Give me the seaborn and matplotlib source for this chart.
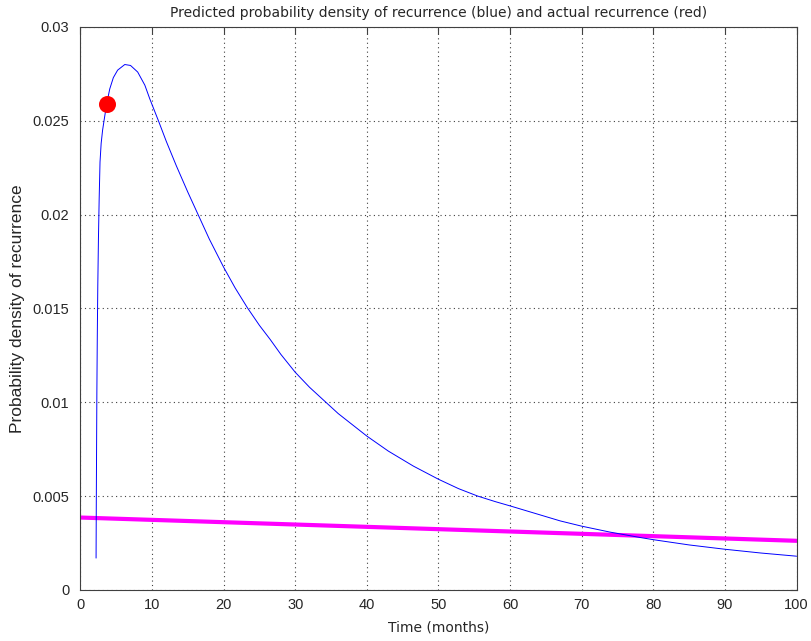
import matplotlib
matplotlib.use("Agg")
import matplotlib.pyplot as plt
import seaborn as sns
import pandas as pd

# Predicted density curve (blue)
time_months = [2.19, 2.22, 2.26, 2.3, 2.36, 2.43, 2.52, 2.62, 2.74, 2.9, 3.1, 3.34, 3.67,
               4.1, 4.6, 5.2, 6.2, 7.0, 8.0, 9.0, 9.7, 10.9, 12.0, 13.4, 15.0, 16.5,
               18.0, 20.0, 21.6, 23.3, 25.0, 26.5, 28.0, 30.0, 32.0, 34.0, 36.0, 38.0,
               40.0, 43.0, 46.5, 50.0, 52.8, 55.5, 58.0, 60.0, 62.8, 64.2, 67.0, 70.0,
               74.0, 78.1, 80.0, 85.0, 90.0, 95.0, 100.0]
density = [0.0017, 0.0045, 0.0075, 0.0105, 0.0135, 0.0162, 0.0187, 0.0208, 0.0228,
           0.0238, 0.0245, 0.0251, 0.0259,
           0.0267, 0.0273, 0.0277, 0.0280, 0.02795, 0.0276, 0.0269, 0.02616, 0.0250,
           0.0239, 0.0226, 0.0212, 0.01995, 0.0187, 0.0172, 0.0161, 0.01505,
           0.0141, 0.01335, 0.01255, 0.0116, 0.0108, 0.0101, 0.0094, 0.0088,
           0.0082, 0.0074, 0.0066, 0.0059, 0.0054, 0.0050, 0.0047, 0.00448, 0.00416,
           0.00400, 0.00368, 0.0034, 0.00308, 0.0028, 0.00268, 0.0024, 0.00217,
           0.00197, 0.0018]

# Actual recurrence (red dot)
recurrence_time = [3.67]
recurrence_density = [0.02587]

# Magenta reference line
ref_time = [0.0, 100.0]
ref_density = [0.00386, 0.00262]

x_ticks = [0, 10, 20, 30, 40, 50, 60, 70, 80, 90, 100]
y_ticks = [0, 0.005, 0.01, 0.015, 0.02, 0.025, 0.03]
y_tick_labels = ["0", "0.005", "0.01", "0.015", "0.02", "0.025", "0.03"]

sns.set_style("white")
plt.rcParams["font.family"] = ["Liberation Sans", "DejaVu Sans"]

fig = plt.figure(figsize=(8.12, 6.41), dpi=100)
ax = fig.add_axes([0.099, 0.0796, 0.882, 0.8783])

curve = pd.DataFrame({"t": time_months, "p": density})
ref = pd.DataFrame({"t": ref_time, "p": ref_density})
dot = pd.DataFrame({"t": recurrence_time, "p": recurrence_density})

sns.lineplot(data=ref, x="t", y="p", ax=ax, color="#ff00ff", linewidth=3.0,
             sort=False, estimator=None, zorder=2)
sns.lineplot(data=curve, x="t", y="p", ax=ax, color="#0000ff", linewidth=0.7,
             sort=False, estimator=None, zorder=3)
sns.scatterplot(data=dot, x="t", y="p", ax=ax, color="#ff0000", s=150,
                edgecolor="#ff0000", linewidth=0, zorder=4)

ax.set_xlim(0, 100)
ax.set_ylim(0, 0.03)
ax.set_xticks(x_ticks)
ax.set_xticklabels([str(v) for v in x_ticks])
ax.set_yticks(y_ticks)
ax.set_yticklabels(y_tick_labels)
ax.grid(True, linestyle=(0, (1, 3)), color="0.25", linewidth=0.8)
ax.tick_params(direction="in", length=5, width=0.8, color="0.25",
               top=True, right=True, labelsize=10.5)
ax.tick_params(axis="y", pad=8)
ax.tick_params(axis="x", pad=6)
for s in ax.spines.values():
    s.set_visible(True)
    s.set_color("0.25")
    s.set_linewidth(0.8)

ax.set_xlabel("Time (months)", fontsize=10, family=["DejaVu Sans"], labelpad=6)
ax.set_ylabel("Probability density of recurrence", fontsize=12.5, labelpad=5)
ax.set_title("Predicted probability density of recurrence (blue) and actual recurrence (red)",
             fontsize=10, family=["DejaVu Sans"], pad=7)

fig.savefig("out.png", dpi=100)
